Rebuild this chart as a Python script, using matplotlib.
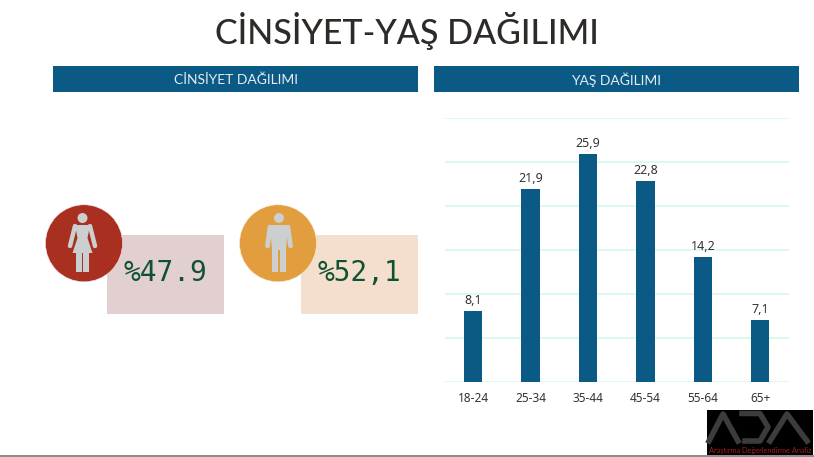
import matplotlib
matplotlib.use('Agg')
import matplotlib.pyplot as plt
from matplotlib.patches import Rectangle, Circle, Polygon

ages = ['18-24', '25-34', '35-44', '45-54', '55-64', '65+']
age_values = [8.1, 21.9, 25.9, 22.8, 14.2, 7.1]
age_labels = ['8,1', '21,9', '25,9', '22,8', '14,2', '7,1']
female_text = '%47.9'
male_text = '%52,1'

W, H = 814, 457
BLUE = '#0b5a85'
TXT = '#333333'
plt.rcParams['font.family'] = ['Lato', 'DejaVu Sans']

fig = plt.figure(figsize=(W / 100, H / 100), dpi=100)

# background layer in pixel coords, y going down
bg = fig.add_axes([0, 0, 1, 1])
bg.set_xlim(0, W)
bg.set_ylim(H, 0)
bg.axis('off')


def limb(xs, ys, w=3.2):
    bg.plot(xs, ys, color='#cbcfd0', lw=w, solid_capstyle='round', zorder=4)


def woman(cx):
    c = '#cbcfd0'
    bg.add_patch(Circle((cx, 218), 5, color=c, lw=0, zorder=4))
    bg.add_patch(Polygon([(cx - 7.5, 225), (cx + 7.5, 225), (cx + 5, 238), (cx + 10, 253), (cx - 10, 253), (cx - 5, 238)],
                         color=c, lw=0, zorder=4))
    limb([cx - 7.5, cx - 12.5], [226, 246])
    limb([cx + 7.5, cx + 12.5], [226, 246])
    bg.add_patch(Rectangle((cx - 6.5, 253), 5.7, 19, color=c, lw=0, zorder=4))
    bg.add_patch(Rectangle((cx + 0.8, 253), 5.7, 19, color=c, lw=0, zorder=4))


def man(cx):
    c = '#cbcfd0'
    bg.add_patch(Circle((cx, 218), 5, color=c, lw=0, zorder=4))
    bg.add_patch(Polygon([(cx - 9, 225), (cx + 9, 225), (cx + 7, 250), (cx - 7, 250)], color=c, lw=0, zorder=4))
    limb([cx - 9, cx - 11.5], [227, 246], 3.4)
    limb([cx + 9, cx + 11.5], [227, 246], 3.4)
    bg.add_patch(Rectangle((cx - 7, 248), 6, 24, color=c, lw=0, zorder=4))
    bg.add_patch(Rectangle((cx + 1, 248), 6, 24, color=c, lw=0, zorder=4))


bg.text(406.5, 31, 'CİNSİYET-YAŞ DAĞILIMI', fontsize=24.5, color='#2e2a27', ha='center', va='center', weight='medium')

bg.add_patch(Rectangle((53, 66), 365, 25.5, color=BLUE, lw=0))
bg.add_patch(Rectangle((434, 66), 365, 25.5, color=BLUE, lw=0))
bg.text(235.5, 79.5, 'CİNSİYET DAĞILIMI', fontsize=10, color='#e4edf2', ha='center', va='center')
bg.text(616.5, 79.5, 'YAŞ DAĞILIMI', fontsize=10, color='#e4edf2', ha='center', va='center')

bg.add_patch(Rectangle((107, 235), 117, 79, color='#e2cfcf', lw=0))
bg.add_patch(Rectangle((301, 235), 117, 79, color='#f4dfcf', lw=0))
bg.add_patch(Circle((84, 243.3), 38.5, fc='#a92f21', ec='#f3e3e0', lw=0.4, zorder=3))
bg.add_patch(Circle((278, 243.3), 38.5, fc='#e29d3e', ec='#f8ecd9', lw=0.4, zorder=3))
woman(82.5)
man(279)
bg.text(165.5, 273, female_text, fontsize=20, color='#0f5132', ha='center', va='center', family='DejaVu Sans Mono')
bg.text(359.5, 273, male_text, fontsize=20, color='#0f5132', ha='center', va='center', family='DejaVu Sans Mono')

# logo
bg.add_patch(Rectangle((707, 410), 106, 45, color='black', lw=0, zorder=1))
grey = '#3c3c3c'
bg.plot([709, 723, 738], [441, 414, 441], color=grey, lw=4, zorder=2)
bg.plot([742, 760, 768, 760, 745], [413.5, 413.5, 427, 441, 441], color=grey, lw=4, zorder=2)
bg.plot([770, 787, 807], [441, 414, 441], color=grey, lw=4, zorder=2)
bg.text(760, 450.5, 'Araştırma Değerlendirme Analiz', fontsize=5.3, color='#a51d1d', ha='center', va='center', zorder=3)
bg.plot([0, W], [456, 456], color='#777777', lw=1.2)

# bar chart
ax = fig.add_axes([444.5 / W, (H - 382) / H, 344.5 / W, 264 / H])
ax.patch.set_alpha(0)
x = range(len(ages))
ax.bar(x, age_values, width=0.32, color=BLUE, zorder=3)
for i in x:
    ax.text(i, age_values[i] + 0.45, age_labels[i], ha='center', va='bottom', fontsize=9, color=TXT,
            family='Noto Sans', weight='medium')
ax.set_xlim(-0.5, 5.5)
ax.set_ylim(0, 30)
ax.set_yticks(range(0, 31, 5))
ax.set_yticklabels([])
ax.set_xticks(list(x))
ax.set_xticklabels(ages, fontsize=8.5, color=TXT, family='Noto Sans')
ax.tick_params(length=0, pad=7)
ax.grid(axis='y', color='#d6fae8', lw=1.2, zorder=0)
for s in ax.spines.values():
    s.set_visible(False)

plt.savefig('out.png', dpi=100)
